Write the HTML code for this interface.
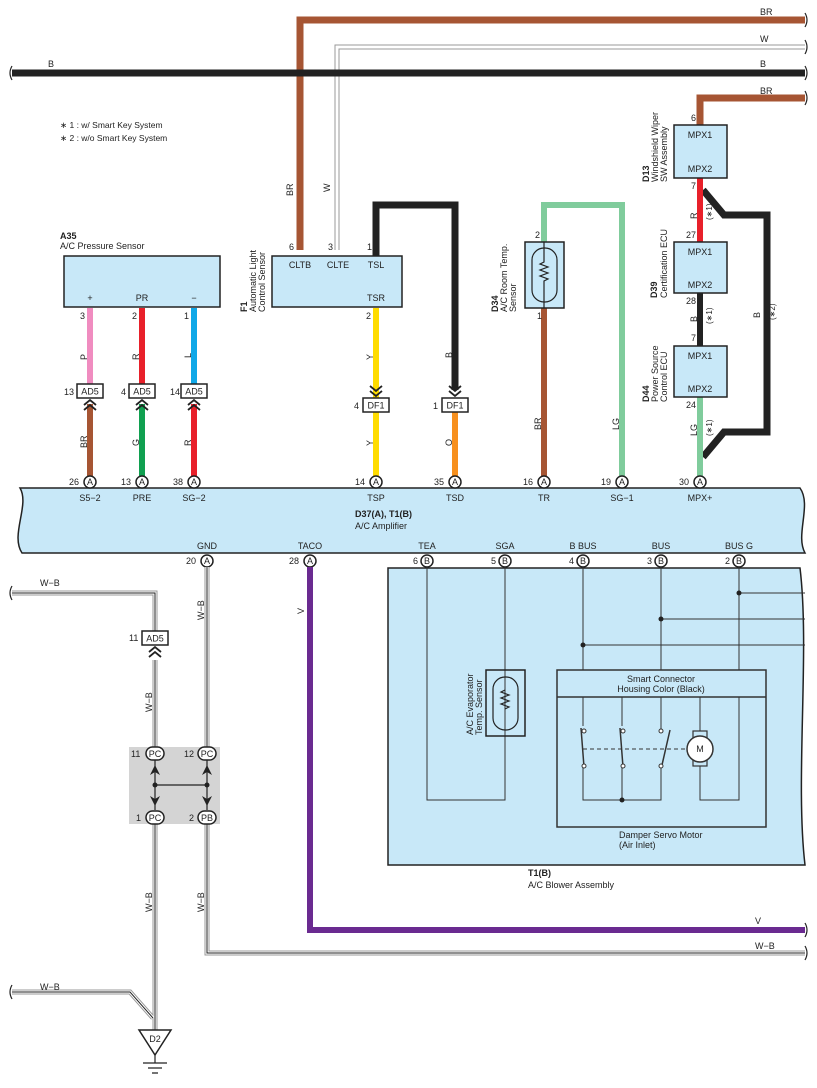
<!DOCTYPE html>
<html><head><meta charset="utf-8"><style>
html,body{margin:0;padding:0;background:#fff}
svg{display:block}
text{font-family:"Liberation Sans",sans-serif;font-size:9px;fill:#222}
.b{font-weight:bold}
.m{text-anchor:middle}
</style></head><body>
<svg width="817" height="1088" viewBox="0 0 817 1088" xmlns="http://www.w3.org/2000/svg">
<!-- top wires -->
<path d="M300,250 V20 H805" fill="none" stroke="#a65533" stroke-width="7"/>
<path d="M337,250 V47 H805" fill="none" stroke="#999" stroke-width="5"/>
<path d="M337,250 V47 H805" fill="none" stroke="#fff" stroke-width="3"/>
<path d="M12,73 H805" stroke="#222" stroke-width="7"/>
<path d="M700,125 V98 H805" fill="none" stroke="#a65533" stroke-width="7"/>
<path d="M12,66 q-4,7 0,14 M805,13 q4,7 0,14 M805,40 q4,7 0,14 M805,66 q4,7 0,14 M805,91 q4,7 0,14" fill="none" stroke="#222" stroke-width="1.2"/>
<text x="48" y="67">B</text><text x="760" y="15">BR</text><text x="760" y="42">W</text><text x="760" y="67">B</text><text x="760" y="94">BR</text>
<text x="60" y="128" style="font-size:8.5px">∗ 1 : w/ Smart Key System</text>
<text x="60" y="141" style="font-size:8.5px">∗ 2 : w/o Smart Key System</text>
<text transform="translate(293,196) rotate(-90)">BR</text>
<text transform="translate(330,192) rotate(-90)">W</text>

<!-- A35 -->
<text x="60" y="239" class="b">A35</text><text x="60" y="249">A/C Pressure Sensor</text>
<rect x="64" y="256" width="156" height="51" fill="#c8e8f8" stroke="#222" stroke-width="1.5"/>
<text x="90" y="301" class="m">+</text><text x="142" y="301" class="m">PR</text><text x="194" y="301" class="m">−</text>
<path d="M90,308 V384" stroke="#f08cc0" stroke-width="6"/>
<path d="M142,308 V384" stroke="#e8202a" stroke-width="6"/>
<path d="M194,308 V384" stroke="#10a8e8" stroke-width="6"/>
<path d="M90,404 V476" stroke="#a65533" stroke-width="6"/>
<path d="M142,404 V476" stroke="#10a050" stroke-width="6"/>
<path d="M194,404 V476" stroke="#e8202a" stroke-width="6"/>
<text x="80" y="319">3</text><text x="132" y="319">2</text><text x="184" y="319">1</text>
<g fill="#fff" stroke="#222" stroke-width="1.5">
<rect x="77" y="384" width="26" height="14"/><rect x="129" y="384" width="26" height="14"/><rect x="181" y="384" width="26" height="14"/>
</g>
<text x="90" y="394.5" class="m">AD5</text><text x="142" y="394.5" class="m">AD5</text><text x="194" y="394.5" class="m">AD5</text>
<text x="64" y="395">13</text><text x="121" y="395">4</text><text x="170" y="395">14</text>
<g fill="none" stroke="#222" stroke-width="1.8">
<path d="M84,405 l6,-5 l6,5 M84,410 l6,-5 l6,5 M136,405 l6,-5 l6,5 M136,410 l6,-5 l6,5 M188,405 l6,-5 l6,5 M188,410 l6,-5 l6,5"/>
</g>
<text transform="translate(87,360) rotate(-90)">P</text>
<text transform="translate(139,360) rotate(-90)">R</text>
<text transform="translate(191,358) rotate(-90)">L</text>
<text transform="translate(87,448) rotate(-90)">BR</text>
<text transform="translate(139,446) rotate(-90)">G</text>
<text transform="translate(191,446) rotate(-90)">R</text>

<!-- F1 -->
<path d="M376,256 V205 H455 V390" fill="none" stroke="#222" stroke-width="7"/>
<rect x="272" y="256" width="130" height="51" fill="#c8e8f8" stroke="#222" stroke-width="1.5"/>
<text x="300" y="268" class="m">CLTB</text><text x="338" y="268" class="m">CLTE</text><text x="376" y="268" class="m">TSL</text><text x="376" y="301" class="m">TSR</text>
<text x="289" y="250">6</text><text x="328" y="250">3</text><text x="367" y="250">1</text>
<text transform="translate(247,312) rotate(-90)" class="b">F1</text>
<text transform="translate(256,312) rotate(-90)">Automatic Light</text>
<text transform="translate(265,312) rotate(-90)">Control Sensor</text>
<path d="M376,308 V398" stroke="#ffdc00" stroke-width="6"/>
<path d="M376,412 V476" stroke="#ffdc00" stroke-width="6"/>
<path d="M455,412 V476" stroke="#f7901e" stroke-width="6"/>
<text x="366" y="319">2</text>
<g fill="none" stroke="#222" stroke-width="1.8"><path d="M370,386 l6,5 l6,-5 M370,391 l6,5 l6,-5 M449,386 l6,5 l6,-5 M449,391 l6,5 l6,-5"/></g>
<g fill="#fff" stroke="#222" stroke-width="1.5"><rect x="363" y="398" width="26" height="14"/><rect x="442" y="398" width="26" height="14"/></g>
<text x="376" y="408.5" class="m">DF1</text><text x="455" y="408.5" class="m">DF1</text>
<text x="354" y="409">4</text><text x="433" y="409">1</text>
<text transform="translate(373,360) rotate(-90)">Y</text>
<text transform="translate(373,446) rotate(-90)">Y</text>
<text transform="translate(452,358) rotate(-90)">B</text>
<text transform="translate(452,446) rotate(-90)">O</text>

<!-- D34 -->
<path d="M544,242 V205 H622 V476" fill="none" stroke="#80cc9c" stroke-width="6"/>
<path d="M544,308 V476" stroke="#a65533" stroke-width="6"/>
<rect x="525" y="242" width="39" height="66" fill="#c8e8f8" stroke="#222" stroke-width="1.5"/>
<rect x="532" y="248" width="25" height="54" rx="12" fill="none" stroke="#222" stroke-width="1.2"/>
<path d="M544,242 V262 l-4,2 l8,3 l-8,3 l8,3 l-8,3 l8,3 l-4,2 V308" fill="none" stroke="#222" stroke-width="1.2"/>
<text x="535" y="238">2</text><text x="537" y="319">1</text>
<text transform="translate(498,312) rotate(-90)" class="b">D34</text>
<text transform="translate(507,312) rotate(-90)">A/C Room Temp.</text>
<text transform="translate(516,312) rotate(-90)">Sensor</text>
<text transform="translate(541,430) rotate(-90)">BR</text>
<text transform="translate(619,430) rotate(-90)">LG</text>

<!-- D13/D39/D44 -->
<path d="M703,190 L724,215 H767 V432 H724 L703,457" fill="none" stroke="#222" stroke-width="7"/>
<path d="M700,178 V242" stroke="#e8202a" stroke-width="6"/>
<path d="M700,293 V346" stroke="#222" stroke-width="6"/>
<path d="M700,397 V476" stroke="#80cc9c" stroke-width="6"/>
<g fill="#c8e8f8" stroke="#222" stroke-width="1.5">
<rect x="674" y="125" width="53" height="53"/><rect x="674" y="242" width="53" height="51"/><rect x="674" y="346" width="53" height="51"/>
</g>
<text x="700" y="138" class="m">MPX1</text><text x="700" y="172" class="m">MPX2</text>
<text x="700" y="255" class="m">MPX1</text><text x="700" y="288" class="m">MPX2</text>
<text x="700" y="359" class="m">MPX1</text><text x="700" y="392" class="m">MPX2</text>
<text x="691" y="121">6</text><text x="691" y="189">7</text><text x="686" y="238">27</text>
<text x="686" y="304">28</text><text x="691" y="341">7</text><text x="686" y="408">24</text>
<text transform="translate(649,182) rotate(-90)" class="b">D13</text>
<text transform="translate(658,182) rotate(-90)">Windshield Wiper</text>
<text transform="translate(667,182) rotate(-90)">SW Assembly</text>
<text transform="translate(657,298) rotate(-90)" class="b">D39</text>
<text transform="translate(667,298) rotate(-90)">Certification ECU</text>
<text transform="translate(649,402) rotate(-90)" class="b">D44</text>
<text transform="translate(658,402) rotate(-90)">Power Source</text>
<text transform="translate(667,402) rotate(-90)">Control ECU</text>
<text transform="translate(697,219) rotate(-90)">R</text>
<text transform="translate(712,220) rotate(-90)" style="font-size:8px">(∗1)</text>
<text transform="translate(697,322) rotate(-90)">B</text>
<text transform="translate(712,324) rotate(-90)" style="font-size:8px">(∗1)</text>
<text transform="translate(697,436) rotate(-90)">LG</text>
<text transform="translate(712,436) rotate(-90)" style="font-size:8px">(∗1)</text>
<text transform="translate(760,318) rotate(-90)">B</text>
<text transform="translate(775,320) rotate(-90)" style="font-size:8px">(∗2)</text>

<!-- amplifier -->
<path d="M20,488 H800 C812,505 795,535 805,553 H22 C10,535 30,505 20,488Z" fill="#c8e8f8" stroke="#222" stroke-width="1.5"/>
<g fill="#fff" stroke="#222" stroke-width="1.5">
<circle cx="90" cy="482" r="6"/><circle cx="142" cy="482" r="6"/><circle cx="194" cy="482" r="6"/><circle cx="376" cy="482" r="6"/><circle cx="455" cy="482" r="6"/><circle cx="544" cy="482" r="6"/><circle cx="622" cy="482" r="6"/><circle cx="700" cy="482" r="6"/>
<circle cx="207" cy="561" r="6"/><circle cx="310" cy="561" r="6"/><circle cx="427" cy="561" r="6"/><circle cx="505" cy="561" r="6"/><circle cx="583" cy="561" r="6"/><circle cx="661" cy="561" r="6"/><circle cx="739" cy="561" r="6"/>
</g>
<g style="font-size:8px" class="m">
<text x="90" y="485" class="m">A</text><text x="142" y="485" class="m">A</text><text x="194" y="485" class="m">A</text><text x="376" y="485" class="m">A</text><text x="455" y="485" class="m">A</text><text x="544" y="485" class="m">A</text><text x="622" y="485" class="m">A</text><text x="700" y="485" class="m">A</text>
<text x="207" y="564" class="m">A</text><text x="310" y="564" class="m">A</text><text x="427" y="564" class="m">B</text><text x="505" y="564" class="m">B</text><text x="583" y="564" class="m">B</text><text x="661" y="564" class="m">B</text><text x="739" y="564" class="m">B</text>
</g>
<text x="69" y="485">26</text><text x="121" y="485">13</text><text x="173" y="485">38</text><text x="355" y="485">14</text><text x="434" y="485">35</text><text x="523" y="485">16</text><text x="601" y="485">19</text><text x="679" y="485">30</text>
<text x="186" y="564">20</text><text x="289" y="564">28</text><text x="413" y="564">6</text><text x="491" y="564">5</text><text x="569" y="564">4</text><text x="647" y="564">3</text><text x="725" y="564">2</text>
<text x="90" y="501" class="m">S5−2</text><text x="142" y="501" class="m">PRE</text><text x="194" y="501" class="m">SG−2</text><text x="376" y="501" class="m">TSP</text><text x="455" y="501" class="m">TSD</text><text x="544" y="501" class="m">TR</text><text x="622" y="501" class="m">SG−1</text><text x="700" y="501" class="m">MPX+</text>
<text x="355" y="517" class="b">D37(A), T1(B)</text><text x="355" y="529">A/C Amplifier</text>
<text x="207" y="549" class="m">GND</text><text x="310" y="549" class="m">TACO</text><text x="427" y="549" class="m">TEA</text><text x="505" y="549" class="m">SGA</text><text x="583" y="549" class="m">B BUS</text><text x="661" y="549" class="m">BUS</text><text x="739" y="549" class="m">BUS G</text>

<!-- blower assembly -->
<path d="M388,568 H800 C810,650 795,780 805,865 H388Z" fill="#c8e8f8" stroke="#222" stroke-width="1.5"/>
<g fill="none" stroke="#333" stroke-width="1">
<path d="M427,567 V800 H505 V567"/>
<path d="M583,567 V670 M661,567 V670 M739,567 V670"/>
<path d="M739,593 H805 M661,619 H805 M583,645 H805"/>
<rect x="557" y="670" width="209" height="157" stroke-width="1.5"/>
<path d="M557,697 H766" stroke-width="1.5"/>
<path d="M583,697 V726 M583,766 V800 H661 V766 M622,697 V726 M622,766 V800 M661,697 V731 M700,697 V733 M700,763 V800 H739 V697"/>
<path d="M581,728 L584,767 M620,728 L623,767 M670,730 L662,765" stroke-width="1.5"/>
<path d="M583,749 H688" stroke-dasharray="4,3"/>
</g>
<g fill="#fff" stroke="#333" stroke-width="1"><circle cx="584" cy="731" r="2"/><circle cx="584" cy="766" r="2"/><circle cx="623" cy="731" r="2"/><circle cx="623" cy="766" r="2"/><circle cx="661" cy="731" r="2"/><circle cx="661" cy="766" r="2"/></g>
<rect x="693" y="731" width="14" height="35" fill="#c8e8f8" stroke="#333" stroke-width="1.2"/>
<circle cx="700" cy="749" r="13" fill="#fff" stroke="#333" stroke-width="1.5"/>
<text x="700" y="752" class="m">M</text>
<g fill="#222"><circle cx="739" cy="593" r="2.5"/><circle cx="661" cy="619" r="2.5"/><circle cx="583" cy="645" r="2.5"/><circle cx="622" cy="800" r="2.5"/></g>
<rect x="486" y="670" width="39" height="66" fill="none" stroke="#222" stroke-width="1.5"/>
<rect x="493" y="677" width="25" height="53" rx="12" fill="none" stroke="#222" stroke-width="1.2"/>
<path d="M505,690 l-4,2 l8,3 l-8,3 l8,3 l-8,3 l8,3 l-4,2" fill="none" stroke="#222" stroke-width="1.2"/>
<text transform="translate(473,735) rotate(-90)">A/C Evaporator</text>
<text transform="translate(482,735) rotate(-90)">Temp.  Sensor</text>
<text x="661" y="682" class="m">Smart Connector</text><text x="661" y="692" class="m">Housing Color (Black)</text>
<text x="619" y="838">Damper Servo Motor</text><text x="619" y="848">(Air Inlet)</text>
<text x="528" y="876" class="b">T1(B)</text><text x="528" y="888">A/C Blower Assembly</text>

<!-- ground wires -->
<g fill="none">
<path d="M310,567 V930 H805" stroke="#6a2a90" stroke-width="6"/>
<g stroke="#999" stroke-width="5"><path d="M207,567 V953 H805"/><path d="M12,593 H155 V632"/><path d="M155,660 V747"/><path d="M155,824 V1030"/><path d="M12,992 H130 L153,1018"/></g>
<g stroke="#fff" stroke-width="3"><path d="M207,567 V953 H805"/><path d="M12,593 H155 V632"/><path d="M155,660 V747"/><path d="M155,824 V1030"/><path d="M12,992 H130 L153,1018"/></g>
<g stroke="#222" stroke-width="1"><path d="M207,567 V953 H805"/><path d="M12,593 H155 V632"/><path d="M155,660 V747"/><path d="M155,824 V1030"/><path d="M12,992 H130 L153,1018"/></g>
<path d="M12,586 q-4,7 0,14 M12,985 q-4,7 0,14 M805,923 q4,7 0,14 M805,946 q4,7 0,14" stroke="#222" stroke-width="1.2"/>
</g>
<text x="40" y="586">W−B</text><text x="40" y="990">W−B</text><text x="755" y="924">V</text><text x="755" y="949">W−B</text>
<text transform="translate(304,614) rotate(-90)">V</text>
<text transform="translate(204,620) rotate(-90)">W−B</text>
<text transform="translate(152,712) rotate(-90)">W−B</text>
<text transform="translate(152,912) rotate(-90)">W−B</text>
<text transform="translate(204,912) rotate(-90)">W−B</text>
<rect x="142" y="631" width="26" height="14" fill="#fff" stroke="#222" stroke-width="1.5"/>
<text x="155" y="641.5" class="m">AD5</text><text x="129" y="641">11</text>
<path d="M149,652 l6,-5 l6,5 M149,657 l6,-5 l6,5" fill="none" stroke="#222" stroke-width="1.8"/>
<!-- junction -->
<rect x="129" y="747" width="91" height="77" fill="#d4d4d4"/>
<path d="M155,760 V810 M207,760 V810 M155,785 H207" stroke="#222" stroke-width="1.2"/>
<g fill="#222"><circle cx="155" cy="785" r="2.5"/><circle cx="207" cy="785" r="2.5"/>
<path d="M150,775 l5,-10 l5,10 l-5,-3z M202,775 l5,-10 l5,10 l-5,-3z M150,796 l5,10 l5,-10 l-5,3z M202,796 l5,10 l5,-10 l-5,3z"/></g>
<g fill="#fff" stroke="#222" stroke-width="1.5"><rect x="146" y="747" width="18" height="13" rx="6.5"/><rect x="198" y="747" width="18" height="13" rx="6.5"/><rect x="146" y="811" width="18" height="13" rx="6.5"/><rect x="198" y="811" width="18" height="13" rx="6.5"/></g>
<g style="font-size:8px"><text x="155" y="757" class="m">PC</text><text x="207" y="757" class="m">PC</text><text x="155" y="821" class="m">PC</text><text x="207" y="821" class="m">PB</text></g>
<text x="131" y="757">11</text><text x="184" y="757">12</text><text x="136" y="821">1</text><text x="189" y="821">2</text>
<path d="M139,1030 H171 L155,1055Z" fill="#fff" stroke="#222" stroke-width="1.5"/>
<text x="155" y="1042" class="m">D2</text>
<path d="M155,1055 V1063 M143,1063 H167 M148,1068 H162 M152,1073 H158" stroke="#222" stroke-width="1.2"/>
</svg>
</body></html>
